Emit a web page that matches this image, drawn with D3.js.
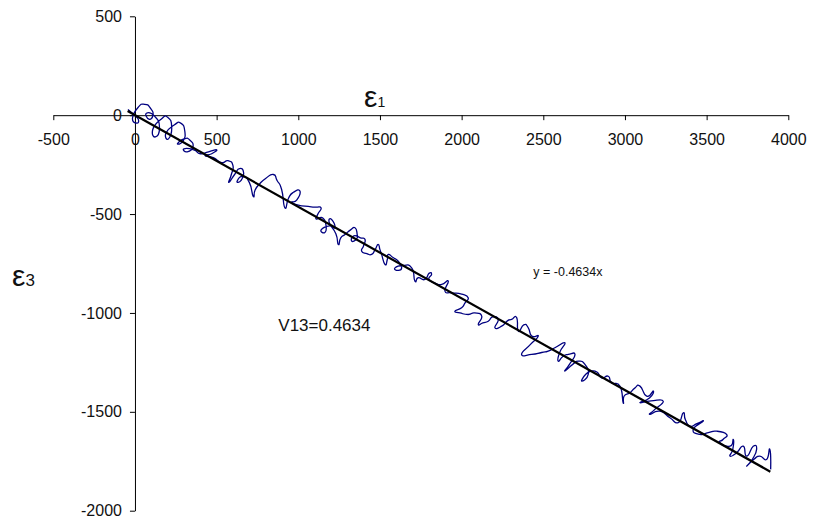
<!DOCTYPE html>
<html><head><meta charset="utf-8">
<script src="https://cdn.jsdelivr.net/npm/d3@7"></script>
<style>body{margin:0;background:#fff}svg{display:block;font-family:Arial,"Liberation Sans",sans-serif}</style>
</head><body><svg id="c" width="816" height="522"></svg>
<script>
// ---- data ----
const xTicks = [-500,0,500,1000,1500,2000,2500,3000,3500,4000];
const yTicks = [500,0,-500,-1000,-1500,-2000];
const strainE1 = [-43,-10,20,10,-15,20,60,95,110,85,70,120,150,125,110,160,200,225,205,190,240,280,305,295,260,300,335,355,320,300,360,400,450,500,470,430,480,530,570,600,590,575,610,640,665,650,625,660,700,724,735,760,800,847,870,898,918,940,970,1010,990,960,1000,1041,1100,1139,1120,1110,1150,1170,1163,1140,1190,1224,1204,1190,1230,1245,1260,1286,1320,1347,1360,1357,1327,1340,1380,1408,1400,1388,1420,1449,1470,1489,1500,1510,1531,1545,1551,1580,1612,1633,1610,1592,1640,1694,1714,1734,1775,1800,1816,1800,1840,1878,1918,1898,1939,2000,2040,2020,2000,1959,1990,2040,2080,2123,2102,2130,2163,2190,2224,2204,2245,2280,2306,2337,2347,2380,2408,2429,2469,2420,2367,2429,2490,2530,2571,2632,2600,2591,2620,2653,2694,2660,2632,2680,2714,2755,2775,2735,2760,2796,2830,2857,2898,2918,2969,2989,2995,3030,3060,3092,3133,3173,3150,3092,3160,3234,3180,3153,3214,3275,3326,3357,3370,3398,3440,3479,3418,3459,3510,3561,3622,3600,3581,3643,3663,3660,3643,3684,3724,3745,3785,3806,3780,3745,3790,3826,3867,3887,3892];
const strainE3 = [29,5,-20,-40,-15,40,55,35,0,-20,10,-5,-60,-110,-70,-20,-10,-60,-120,-90,-50,-40,-80,-130,-145,-120,-125,-160,-185,-170,-175,-195,-185,-175,-195,-205,-215,-240,-230,-255,-300,-340,-300,-270,-290,-330,-335,-310,-340,-410,-380,-350,-320,-300,-330,-376,-468,-420,-390,-384,-430,-440,-455,-460,-465,-468,-500,-525,-520,-560,-593,-580,-560,-569,-527,-545,-600,-654,-620,-603,-580,-569,-600,-625,-637,-610,-620,-628,-660,-688,-700,-704,-680,-654,-680,-704,-755,-730,-704,-720,-738,-772,-785,-772,-760,-772,-839,-822,-831,-800,-805,-830,-850,-856,-839,-890,-898,-905,-923,-950,-974,-991,-1000,-1008,-1000,-1016,-1058,-1050,-1042,-1020,-1033,-1075,-1067,-1040,-1033,-1024,-1092,-1060,-1075,-1117,-1117,-1160,-1210,-1210,-1200,-1193,-1176,-1151,-1200,-1244,-1220,-1210,-1210,-1260,-1294,-1260,-1244,-1260,-1311,-1345,-1310,-1294,-1300,-1328,-1320,-1353,-1370,-1454,-1420,-1404,-1380,-1370,-1421,-1395,-1430,-1454,-1445,-1446,-1490,-1513,-1497,-1530,-1555,-1505,-1540,-1572,-1560,-1547,-1589,-1614,-1605,-1598,-1614,-1640,-1656,-1674,-1640,-1690,-1724,-1707,-1674,-1724,-1674,-1690,-1740,-1775,-1740,-1724,-1741,-1690,-1791];
const fitSlope = -0.4634;
const fitRange = [-45, 3890];
const eqLabel = "y = -0.4634x";
const vLabel = "V13=0.4634";

// ---- scales ----
const svg = d3.select("#c");
const x = d3.scaleLinear().domain([-500,4000]).range([53.3,788.3]);
const y = d3.scaleLinear().domain([-2000,500]).range([510.7,16.3]);

const gx = svg.append("g").attr("transform",`translate(0,${y(0)})`)
  .call(d3.axisBottom(x).tickValues(xTicks).tickSize(5).tickPadding(13).tickSizeOuter(0).tickFormat(d=>String(d)));
const gy = svg.append("g").attr("transform",`translate(${x(0)},0)`)
  .call(d3.axisLeft(y).tickValues(yTicks).tickSize(5).tickPadding(8).tickSizeOuter(0).tickFormat(d=>String(d)));
[gx,gy].forEach(g=>{
  g.select(".domain").attr("stroke","#000");
  g.selectAll(".tick line").attr("stroke","#000");
  g.selectAll(".tick text").attr("fill","#111").style("font-size","16px").style("font-family","Arial,'Liberation Sans',sans-serif");
});

const pts = strainE1.map((v,i)=>[v,strainE3[i]]);
svg.append("path").datum(pts)
  .attr("fill","none").attr("stroke","#000080").attr("stroke-width",1.3)
  .attr("d", d3.line().x(d=>x(d[0])).y(d=>y(d[1])).curve(d3.curveCardinal.tension(-0.8)));

svg.append("line")
  .attr("x1",x(fitRange[0])).attr("y1",y(fitSlope*fitRange[0]))
  .attr("x2",x(fitRange[1])).attr("y2",y(fitSlope*fitRange[1]))
  .attr("stroke","#000").attr("stroke-width",2.2);

const t1 = svg.append("text").attr("x",364).attr("y",106.5).attr("fill","#111");
t1.append("tspan").text("ε").style("font-size","30px");
t1.append("tspan").text("1").style("font-size","14px");
const t3 = svg.append("text").attr("x",12).attr("y",286).attr("fill","#111");
t3.append("tspan").text("ε").style("font-size","30px");
t3.append("tspan").text("3").style("font-size","17px");

svg.append("text").attr("x",278.3).attr("y",330.7).style("font-size","17px").attr("fill","#111").text(vLabel);
svg.append("text").attr("x",533.3).attr("y",276).style("font-size","12.5px").attr("fill","#111").text(eqLabel);
</script></body></html>
